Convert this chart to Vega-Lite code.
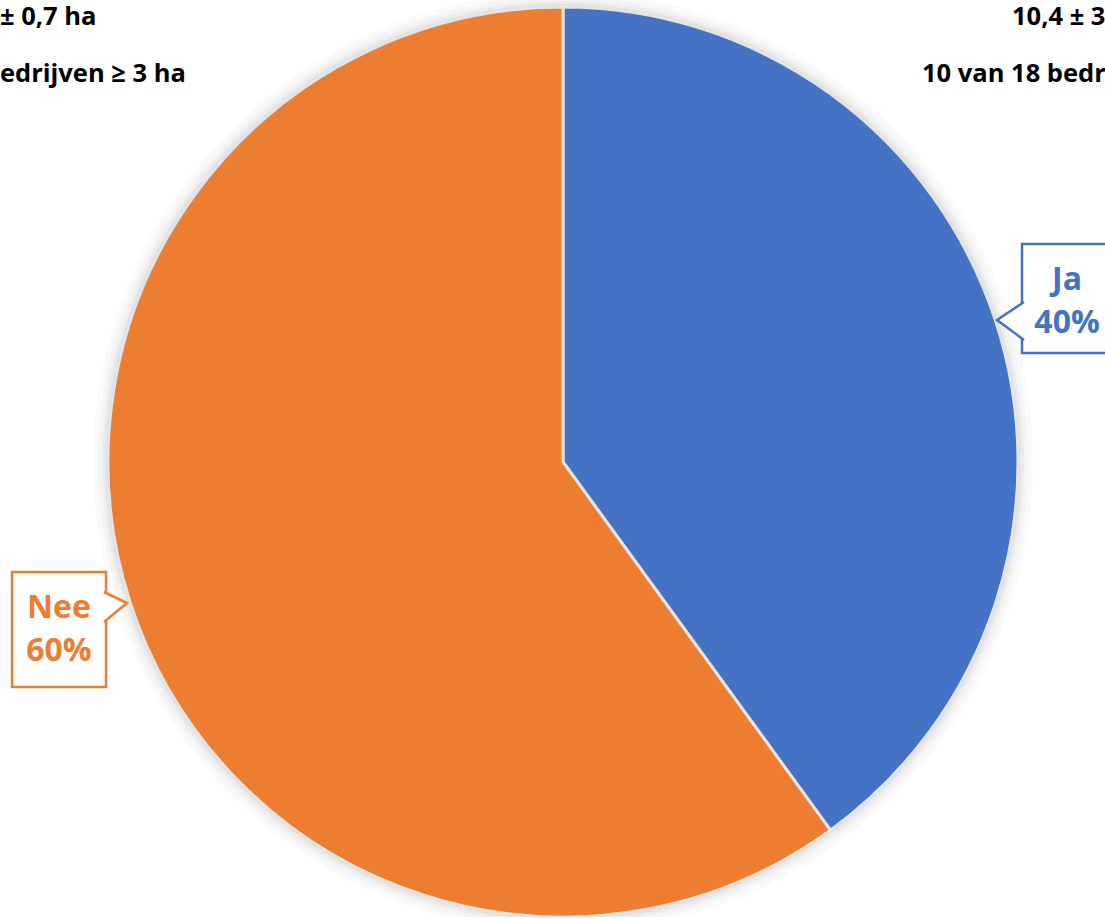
{
  "$schema": "https://vega.github.io/schema/vega-lite/v6.json",
  "width": 1084,
  "height": 910,
  "autosize": "none",
  "padding": {"left": 21, "top": 7, "right": 0, "bottom": 0},
  "background": "white",
  "config": {"view": {"stroke": null}, "text": {"font": "Open Sans", "fontWeight": "bold"}},
  "data": {"values": [
    {"antwoord": "Ja", "aandeel": 0.4},
    {"antwoord": "Nee", "aandeel": 0.6}
  ]},
  "layer": [
    {"mark": {"type": "arc", "outerRadius": 470, "color": "#000", "opacity": 0.02},
     "encoding": {"theta": {"field": "aandeel", "type": "quantitative", "stack": true}, "order": {"field": "antwoord", "sort": "ascending"}}},
    {"mark": {"type": "arc", "outerRadius": 465, "color": "#000", "opacity": 0.025},
     "encoding": {"theta": {"field": "aandeel", "type": "quantitative", "stack": true}, "order": {"field": "antwoord", "sort": "ascending"}}},
    {"mark": {"type": "arc", "outerRadius": 461, "color": "#000", "opacity": 0.03},
     "encoding": {"theta": {"field": "aandeel", "type": "quantitative", "stack": true}, "order": {"field": "antwoord", "sort": "ascending"}}},
    {"mark": {"type": "arc", "outerRadius": 458, "color": "#000", "opacity": 0.04},
     "encoding": {"theta": {"field": "aandeel", "type": "quantitative", "stack": true}, "order": {"field": "antwoord", "sort": "ascending"}}},
    {"mark": {"type": "arc", "outerRadius": 455, "stroke": "#e4e4e4", "strokeWidth": 3},
     "encoding": {
       "theta": {"field": "aandeel", "type": "quantitative", "stack": true},
       "order": {"field": "antwoord", "sort": "ascending"},
       "color": {"field": "antwoord", "type": "nominal", "scale": {"domain": ["Ja", "Nee"], "range": ["#4472C4", "#ED7D31"]}, "legend": null}
     }},
    {"data": {"values": [{}]},
     "mark": {"type": "rect", "x": 1001, "x2": 1104, "y": 237, "y2": 346, "fill": "white", "stroke": "#4472C4", "strokeWidth": 2.5},
     "encoding": {}},
    {"data": {"values": [{}]},
     "mark": {"type": "point", "shape": "M 0.1 -0.95 L -1.25 -0.05 L 0.1 0.95", "size": 1600, "filled": true, "fill": "white", "stroke": "#4472C4", "strokeWidth": 2.5, "opacity": 1, "x": 1001, "y": 314},
     "encoding": {}},
    {"data": {"values": [{}]},
     "mark": {"type": "rect", "x": -9, "x2": 85, "y": 565, "y2": 680, "fill": "white", "stroke": "#ED7D31", "strokeWidth": 2.5},
     "encoding": {}},
    {"data": {"values": [{}]},
     "mark": {"type": "point", "shape": "M -0.1 -0.75 L 1.05 -0.2 L -0.1 0.75", "size": 1600, "filled": true, "fill": "white", "stroke": "#ED7D31", "strokeWidth": 2.5, "opacity": 1, "x": 85, "y": 600},
     "encoding": {}},
    {"mark": {"type": "text", "radius": 530, "dy": -8, "align": "center", "baseline": "alphabetic", "fontSize": 32},
     "encoding": {
       "theta": {"field": "aandeel", "type": "quantitative", "stack": true},
       "order": {"field": "antwoord", "sort": "ascending"},
       "text": {"field": "antwoord", "type": "nominal"},
       "color": {"field": "antwoord", "type": "nominal", "scale": {"domain": ["Ja", "Nee"], "range": ["#4472C4", "#ED7D31"]}, "legend": null}
     }},
    {"mark": {"type": "text", "radius": 530, "dy": 35, "align": "center", "baseline": "alphabetic", "fontSize": 32},
     "encoding": {
       "theta": {"field": "aandeel", "type": "quantitative", "stack": true},
       "order": {"field": "antwoord", "sort": "ascending"},
       "text": {"field": "aandeel", "type": "quantitative", "format": ".0%"},
       "color": {"field": "antwoord", "type": "nominal", "scale": {"domain": ["Ja", "Nee"], "range": ["#4472C4", "#ED7D31"]}, "legend": null}
     }},
    {"data": {"values": [{"regel1": "± 0,7 ha", "regel2": "edrijven ≥ 3 ha"}]},
     "mark": {"type": "text", "x": -21, "y": 18, "align": "left", "baseline": "alphabetic", "fontSize": 25.5, "color": "black"},
     "encoding": {"text": {"field": "regel1"}}},
    {"data": {"values": [{"regel1": "± 0,7 ha", "regel2": "edrijven ≥ 3 ha"}]},
     "mark": {"type": "text", "x": -21, "y": 75, "align": "left", "baseline": "alphabetic", "fontSize": 25.5, "color": "black"},
     "encoding": {"text": {"field": "regel2"}}},
    {"data": {"values": [{"regel1": "10,4 ± 3", "regel2": "10 van 18 bedr"}]},
     "mark": {"type": "text", "x": 991, "y": 18, "align": "left", "baseline": "alphabetic", "fontSize": 25.5, "color": "black"},
     "encoding": {"text": {"field": "regel1"}}},
    {"data": {"values": [{"regel1": "10,4 ± 3", "regel2": "10 van 18 bedr"}]},
     "mark": {"type": "text", "x": 901, "y": 75, "align": "left", "baseline": "alphabetic", "fontSize": 25.5, "color": "black"},
     "encoding": {"text": {"field": "regel2"}}}
  ]
}
